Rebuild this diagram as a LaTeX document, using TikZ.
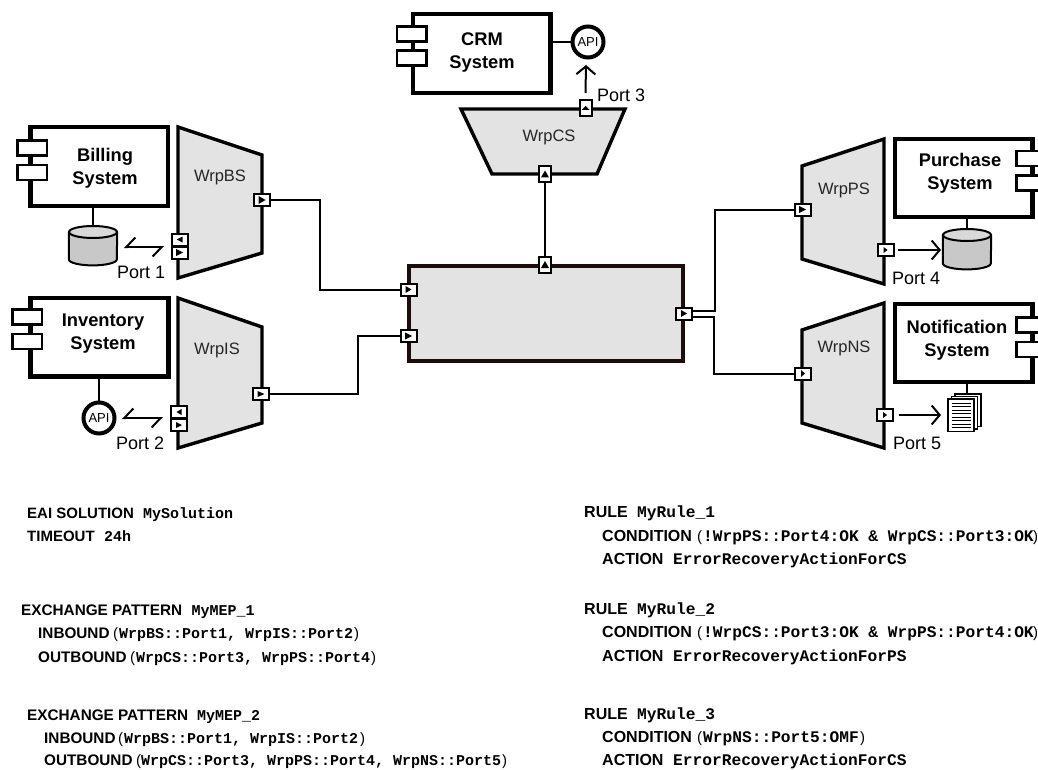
\documentclass[tikz,border=0pt]{standalone}
\usepackage{fontspec}
\setmainfont{Liberation Sans}
\setmonofont{Liberation Mono}
\usetikzlibrary{arrows.meta,calc}
\definecolor{wrapgray}{HTML}{E3E3E3}
\definecolor{dbgray}{HTML}{C8C8C8}
\definecolor{corecol}{HTML}{1C0C0C}
\tikzset{
  sysbox/.style={draw=black,fill=white,line width=4.5pt,inner sep=0pt},
  lugbox/.style={draw=black,fill=white,line width=2.5pt,inner sep=0pt},
  wrapshape/.style={draw=black,fill=wrapgray,line width=3.4pt,line join=miter},
  corebox/.style={draw=corecol,fill=wrapgray,line width=3.4pt,inner sep=0pt},
  portbox/.style={draw=black,fill=white,line width=2pt,inner sep=0pt},
  conn/.style={draw=black,line width=2pt},
  syslabel/.style={font=\fontsize{18.3}{23}\selectfont\bfseries,align=center,inner sep=0pt},
  wraplabel/.style={font=\fontsize{16.5}{19}\selectfont,inner sep=0pt,text=black!85},
  portlabel/.style={font=\fontsize{18}{21}\selectfont,inner sep=0pt,anchor=base west},
  apinode/.style={circle,draw=black,fill=white,line width=4pt,minimum size=31pt,inner sep=0pt,font=\fontsize{13}{15}\selectfont},
  kw/.style={font=\fontsize{15.3}{18}\selectfont\bfseries,inner sep=0pt,anchor=base west},
  kwa/.style={font=\fontsize{15}{18}\selectfont\bfseries,inner sep=0pt,anchor=base west},
  kwr/.style={font=\fontsize{16}{18}\selectfont\bfseries,inner sep=0pt,anchor=base west},
  code/.style={font=\fontsize{15}{18}\selectfont\ttfamily\bfseries,inner sep=0pt,anchor=base west},
  coder/.style={font=\fontsize{16.2}{18}\selectfont\ttfamily\bfseries,inner sep=0pt,anchor=base west},
  parenl/.style={font=\fontsize{15}{18}\selectfont,inner sep=0pt,anchor=base west},
  ghost/.style={inner sep=0pt},
  openhead/.style={conn,-{Straight Barb[length=8pt,width=19pt,line width=2pt]}},
  halfhead/.style={conn,{Straight Barb[harpoon,swap,length=9pt,width=19pt,line width=2pt]}-{Straight Barb[harpoon,swap,length=9pt,width=19pt,line width=2pt]}}
}
% name, cx, cy, w, h, angle, half-length, half-width
\newcommand{\myport}[8]{%
  \node[portbox,minimum width=#4pt-2pt,minimum height=#5pt-2pt] (#1) at (#2,#3) {};
  \fill[black,shift={(#1.center)},rotate=#6] (-#7,-#8) -- (#7,0) -- (-#7,#8) -- cycle;
}
% name, cx, top y, half width, height
\newcommand{\mydb}[5]{%
  \node[ghost,minimum width=#4pt*2,minimum height=#5pt,anchor=north] (#1) at (#2,#3) {};
  \draw[draw=black,fill=dbgray,line width=2pt]
    ($(#1.north west)+(0,-6pt)$) -- ($(#1.south west)+(0,6pt)$)
    arc[start angle=180,end angle=360,x radius=#4pt,y radius=6pt]
    -- ($(#1.north east)+(0,-6pt)$);
  \draw[draw=black,fill=dbgray!70!white,line width=2pt] ($(#1.north)+(0,-6pt)$) ellipse[x radius=#4pt,y radius=6pt];
}
\begin{document}
\begin{tikzpicture}[x=1pt,y=-1pt]
\useasboundingbox (0,0) rectangle (1038,770);
\fill[white] (0,0) rectangle (1038,770);

% ---------- Billing
\node[sysbox,minimum width=137.5pt,minimum height=78.5pt] (billing) at (99,166.5) {};
\node[lugbox,minimum width=29.5pt,minimum height=15pt] (billingA) at (32,148) {};
\node[lugbox,minimum width=29.5pt,minimum height=15pt] (billingB) at (32,172.5) {};
\node[syslabel] (billingT) at (105,168) {Billing\\System};
\mydb{dbB}{93}{226}{24}{39}
\draw[conn] (billing.south -| dbB.north) -- (dbB.north);
\draw[wrapshape] (178,127) -- (262,155) -- (262,253) -- (178,278) -- cycle;
\node[wraplabel] (wbs) at (220,177) {WrpBS};
\myport{bsOut}{262}{200}{18}{14}{0}{3.5}{4}
\myport{bsA}{179.5}{239.5}{18}{14}{180}{3}{3}
\myport{bsB}{179.5}{252.5}{18}{14}{0}{3.5}{3.5}
\coordinate (h1a) at (124,247);
\coordinate (h1b) at (164,247);
\draw[halfhead] (h1a) -- (h1b);
\node[portlabel] (p1) at (117,278.5) {Port 1};

% ---------- Inventory
\node[sysbox,minimum width=138pt,minimum height=78.5pt] (inv) at (99.5,337) {};
\node[lugbox,minimum width=29.5pt,minimum height=15pt] (invA) at (27,317) {};
\node[lugbox,minimum width=29.5pt,minimum height=15pt] (invB) at (27,341.5) {};
\node[syslabel] (invT) at (103,334) {Inventory\\System};
\node[apinode] (apiI) at (99,418) {API};
\draw[conn] (inv.south -| apiI.north) -- (apiI.north);
\draw[wrapshape] (178,298) -- (262,327) -- (262,423) -- (178,448) -- cycle;
\node[wraplabel] (wis) at (217,350) {WrpIS};
\myport{isOut}{261}{394}{18}{14}{0}{3.5}{3}
\myport{isA}{179}{412}{18}{14}{180}{2.5}{3}
\myport{isB}{179}{425}{18}{14}{0}{3}{3}
\coordinate (h2a) at (122,418);
\coordinate (h2b) at (163,418);
\draw[halfhead] (h2a) -- (h2b);
\node[portlabel] (p2) at (116,449.5) {Port 2};

% ---------- CRM
\node[sysbox,minimum width=137.5pt,minimum height=79pt] (crm) at (481.5,53.5) {};
\node[lugbox,minimum width=29.5pt,minimum height=15pt] (crmA) at (411.5,34) {};
\node[lugbox,minimum width=29.5pt,minimum height=15pt] (crmB) at (411.5,58) {};
\node[syslabel] (crmT) at (482,53) {CRM\\System};
\node[apinode] (apiC) at (588,42) {API};
\draw[conn] (crm.east |- apiC.west) -- (apiC.west);
\draw[wrapshape] (461,109) -- (625,109) -- (597,174) -- (492,174) -- cycle;
\node[wraplabel] (wcs) at (549,137) {WrpCS};
\myport{csTop}{585.5}{108}{14}{18}{90}{2}{4}
\myport{csIn}{545}{174}{14}{18}{90}{3.5}{4}
\coordinate (a3) at (586,65);
\draw[openhead] (csTop.north) ++(0,-6) -- (a3);
\node[portlabel] (p3) at (597,101.5) {Port 3};

% ---------- Core
\node[corebox,minimum width=274pt,minimum height=95pt] (core) at (546,313.5) {};
\myport{coreTop}{545}{264.5}{14}{18}{90}{3.5}{4}
\myport{coreL1}{408.5}{289.5}{18}{14}{0}{3}{3.5}
\myport{coreL2}{408.5}{336}{18}{14}{0}{3.5}{3.5}
\myport{coreR}{684}{313.5}{18}{14}{0}{3}{3.5}

% ---------- Purchase
\node[sysbox,minimum width=137.5pt,minimum height=78pt] (pur) at (963.5,178) {};
\begin{scope}
\clip (880,130) rectangle (1038,400);
\node[lugbox,minimum width=40pt,minimum height=15pt,anchor=west] (purA) at (1015,158.5) {};
\node[lugbox,minimum width=40pt,minimum height=15pt,anchor=west] (purB) at (1015,183) {};
\end{scope}
\node[syslabel] (purT) at (960,173) {Purchase\\System};
\mydb{dbP}{967}{229}{24}{40}
\draw[conn] (pur.south -| dbP.north) -- (dbP.north);
\draw[wrapshape] (802,166) -- (884,139) -- (884,284) -- (802,259) -- cycle;
\node[wraplabel] (wps) at (844,190) {WrpPS};
\myport{psIn}{802.5}{209.5}{18}{14}{0}{3.5}{3.5}
\myport{psOut}{885.5}{250}{18}{14}{0}{2}{3}
\coordinate (a4s) at (898,250);
\coordinate (a4e) at (941,250);
\draw[openhead] (a4s) -- (a4e);
\node[portlabel] (p4) at (892,284.5) {Port 4};

% ---------- Notification
\node[sysbox,minimum width=137.5pt,minimum height=78pt] (not) at (963.5,343) {};
\begin{scope}
\clip (880,130) rectangle (1038,400);
\node[lugbox,minimum width=40pt,minimum height=15pt,anchor=west] (notA) at (1015,325) {};
\node[lugbox,minimum width=40pt,minimum height=15pt,anchor=west] (notB) at (1015,349.5) {};
\end{scope}
\node[syslabel] (notT) at (957,340) {Notification\\System};
\draw[wrapshape] (802,330) -- (884,303) -- (884,448) -- (802,423) -- cycle;
\node[wraplabel] (wns) at (844,348) {WrpNS};
\myport{nsIn}{803}{373.5}{18}{14}{0}{2}{3.5}
\myport{nsOut}{885}{415}{18}{14}{0}{2}{3}
\coordinate (a5s) at (899,415);
\coordinate (a5e) at (941,415);
\draw[openhead] (a5s) -- (a5e);
\node[portlabel] (p5) at (893,449.5) {Port 5};
% document stack
\node[ghost,minimum width=33pt,minimum height=38pt] (docs) at (964.5,413) {};
\draw[conn] (not.south -| 967,0) -- (967,395);
\foreach \dx/\dy in {7/-5,3.5/-2.5,0/0}{
  \draw[black,fill=white,line width=1.1pt,shift={(\dx,\dy)}] (948,399) -- (974,399) -- (974,431.5) -- (948,431.5) -- cycle;
}
\foreach \yy in {403,406.5,410,413.5,417,420.5,424,427.5}{
  \draw[black,line width=1pt] (951.5,\yy) -- (970.5,\yy);
}

% ---------- Connectors
\coordinate (jBS) at (320,200);
\coordinate (jIS) at (358,394);
\coordinate (jPS) at ($(coreR.east)+(22,-2.5)$);
\coordinate (jNS) at ($(coreR.east)+(21,3)$);
\draw[conn] (bsOut.east) -- (jBS) |- (coreL1.west);
\draw[conn] (isOut.east) -- (jIS) |- (coreL2.west);
\draw[conn] (csIn.south) -- (coreTop.north);
\draw[conn] ($(coreR.east)+(0,-2.5)$) -- (jPS) |- (psIn.west);
\draw[conn] ($(coreR.east)+(0,3)$) -- (jNS) |- (nsIn.west);

% ---------- Left text
\node[kwa] (t1) at (27,518) {EAI SOLUTION};
\node[code] (t1b) at (143,518) {MySolution};
\node[kwa] (t2) at (27,541) {TIMEOUT};
\node[code] (t2b) at (104,541) {24h};

\node[kw] (t3) at (21,615) {EXCHANGE PATTERN};
\node[code] (t3b) at (191.5,615) {MyMEP\_1};
\node[kw] (t4) at (38,638) {INBOUND};
\node[parenl] (t4p) at (113,638) {(};
\node[code] (t4b) at (119,638) {WrpBS::Port1, WrpIS::Port2};
\node[parenl] (t4q) at (354,638) {)};
\node[kw] (t5) at (38,662) {OUTBOUND};
\node[parenl] (t5p) at (130,662) {(};
\node[code] (t5b) at (136,662) {WrpCS::Port3, WrpPS::Port4};
\node[parenl] (t5q) at (371,662) {)};

\node[kw] (t6) at (27,720) {EXCHANGE PATTERN};
\node[code] (t6b) at (197,720) {MyMEP\_2};
\node[kw] (t7) at (44,743) {INBOUND};
\node[parenl] (t7p) at (118,743) {(};
\node[code] (t7b) at (124,743) {WrpBS::Port1, WrpIS::Port2};
\node[parenl] (t7q) at (360,743) {)};
\node[kw] (t8) at (44,765) {OUTBOUND};
\node[parenl] (t8p) at (136,765) {(};
\node[code] (t8b) at (141,765) {WrpCS::Port3, WrpPS::Port4, WrpNS::Port5};
\node[parenl] (t8q) at (502,765) {)};

% ---------- Right text
\node[kwr] (r1) at (584,517) {RULE};
\node[coder] (r1b) at (637,517) {MyRule\_1};
\node[kwr] (r2) at (602,541) {CONDITION};
\node[parenl] (r2p) at (697,541) {(};
\node[coder] (r2b) at (703,541) {!WrpPS::Port4:OK \& WrpCS::Port3:OK};
\node[parenl] (r2q) at (1033,541) {)};
\node[kwr] (r3) at (602,564) {ACTION};
\node[coder] (r3b) at (673,564) {ErrorRecoveryActionForCS};

\node[kwr] (r4) at (584,614) {RULE};
\node[coder] (r4b) at (637,614) {MyRule\_2};
\node[kwr] (r5) at (602,637) {CONDITION};
\node[parenl] (r5p) at (697,637) {(};
\node[coder] (r5b) at (703,637) {!WrpCS::Port3:OK \& WrpPS::Port4:OK};
\node[parenl] (r5q) at (1033,637) {)};
\node[kwr] (r6) at (602,661) {ACTION};
\node[coder] (r6b) at (673,661) {ErrorRecoveryActionForPS};

\node[kwr] (r7) at (584,719) {RULE};
\node[coder] (r7b) at (637,719) {MyRule\_3};
\node[kwr] (r8) at (602,742) {CONDITION};
\node[parenl] (r8p) at (697,742) {(};
\node[coder] (r8b) at (703,742) {WrpNS::Port5:OMF};
\node[parenl] (r8q) at (860,742) {)};
\node[kwr] (r9) at (602,765) {ACTION};
\node[coder] (r9b) at (673,765) {ErrorRecoveryActionForCS};
\end{tikzpicture}
\end{document}
